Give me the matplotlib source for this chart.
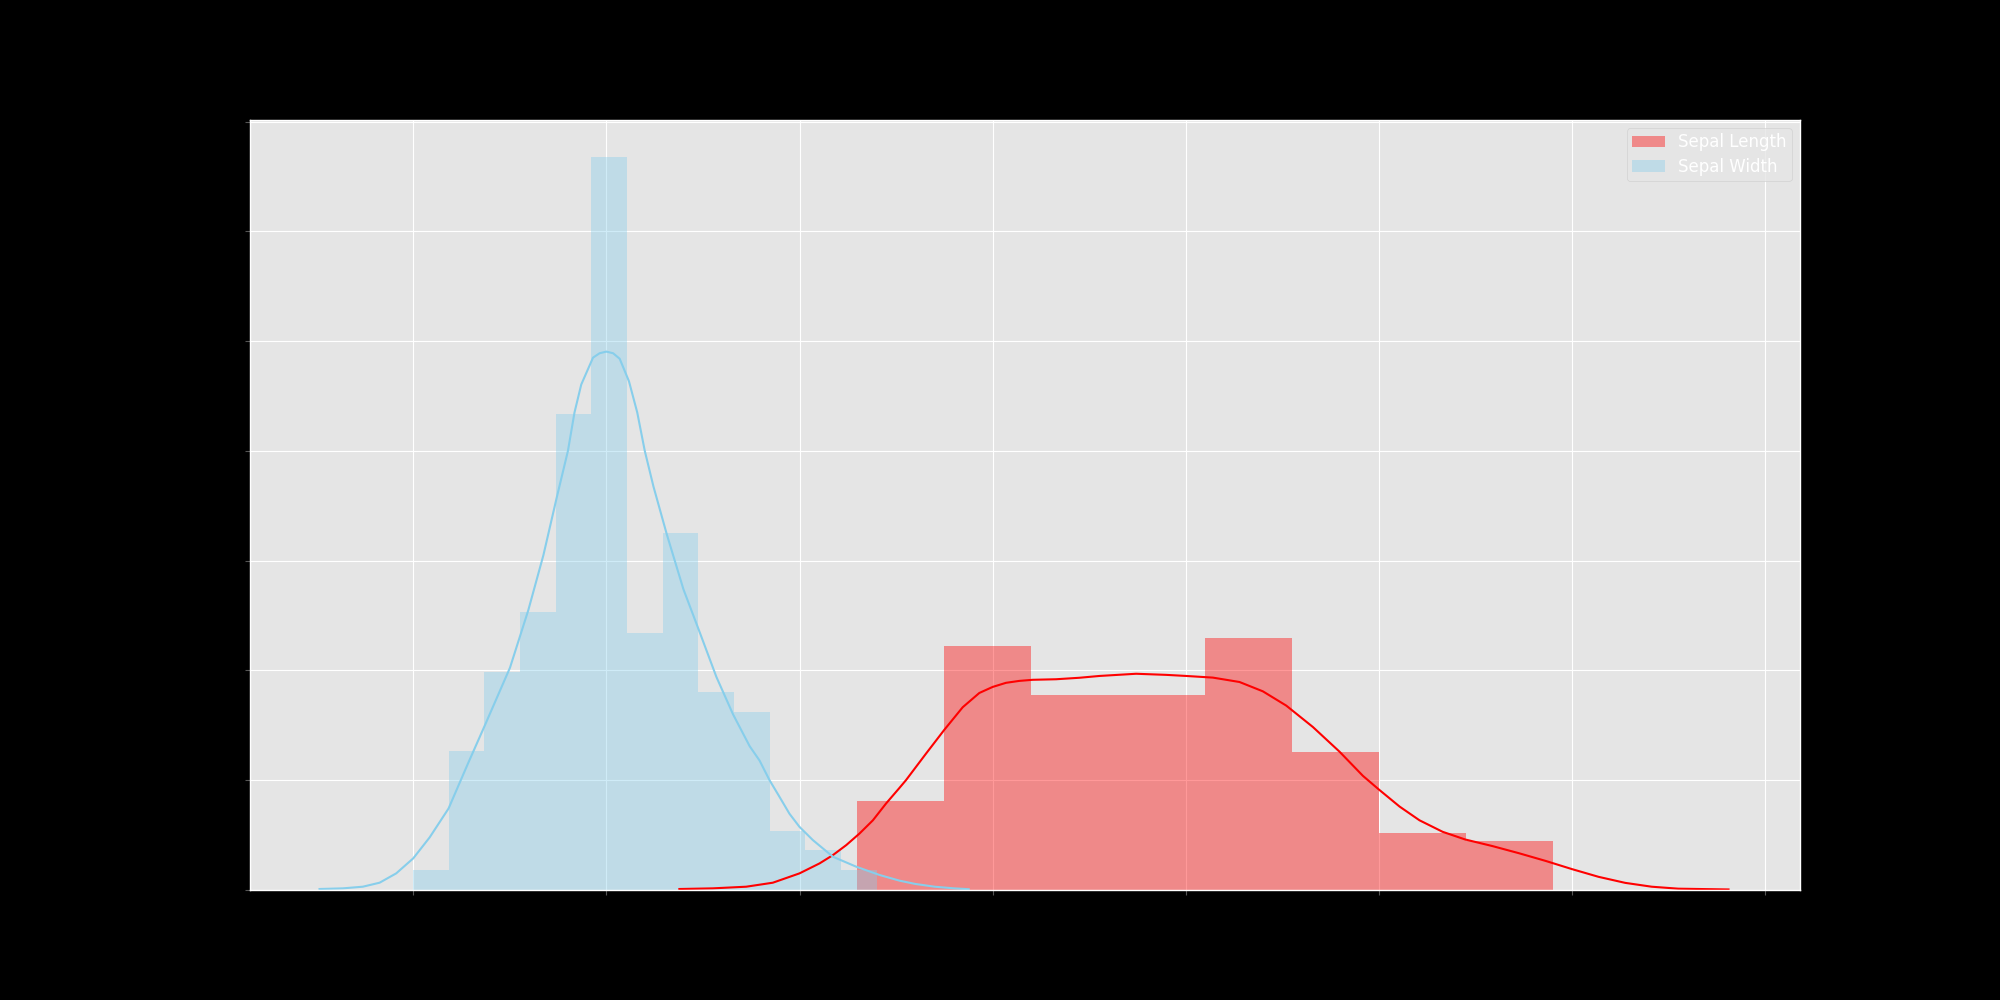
import numpy as np
import matplotlib
matplotlib.use("Agg")
import matplotlib.pyplot as plt
from matplotlib.ticker import MultipleLocator

# ---- data ----
sl_edges = [4.3, 4.75, 5.2, 5.65, 6.1, 6.55, 7.0, 7.45, 7.9]
sl_density = [0.163, 0.444, 0.356, 0.356, 0.459, 0.252, 0.104, 0.089]

sw_edges = [2.0, 2.185, 2.369, 2.554, 2.738, 2.923, 3.108, 3.292,
            3.477, 3.662, 3.846, 4.031, 4.215, 4.4]
sw_density = [0.036, 0.253, 0.397, 0.506, 0.867, 1.336, 0.469, 0.650,
              0.361, 0.325, 0.108, 0.072, 0.036]

sl_kde_x = [3.378, 3.551, 3.724, 3.862, 4.0, 4.104, 4.173, 4.242, 4.311, 4.380,
            4.449, 4.515, 4.551, 4.655, 4.750, 4.845, 4.931, 5.0, 5.069, 5.138,
            5.207, 5.328, 5.449, 5.553, 5.743, 5.898, 6.002, 6.140, 6.278, 6.399,
            6.520, 6.658, 6.796, 6.917, 7.0, 7.107, 7.210, 7.330, 7.447, 7.588,
            7.725, 7.863, 8.0, 8.137, 8.275, 8.412, 8.55, 8.81]
sl_kde_y = [0.0018, 0.003, 0.006, 0.0133, 0.0303, 0.0485, 0.0636, 0.0818, 0.103, 0.127,
            0.158, 0.185, 0.200, 0.2485, 0.292, 0.333, 0.359, 0.370, 0.3775, 0.381,
            0.383, 0.384, 0.3867, 0.390, 0.394, 0.392, 0.390, 0.387, 0.379, 0.362,
            0.336, 0.297, 0.252, 0.208, 0.183, 0.152, 0.127, 0.106, 0.092, 0.080,
            0.067, 0.053, 0.038, 0.024, 0.013, 0.006, 0.0024, 0.001]

sw_kde_x = [1.515, 1.636, 1.739, 1.826, 1.912, 2.0, 2.085, 2.183, 2.283, 2.371,
            2.501, 2.596, 2.674, 2.743, 2.801, 2.835, 2.870, 2.931, 2.965, 3.0,
            3.035, 3.069, 3.117, 3.160, 3.199, 3.244, 3.313, 3.399, 3.485, 3.570,
            3.656, 3.742, 3.793, 3.845, 3.896, 3.948, 4.0, 4.069, 4.173, 4.294,
            4.415, 4.518, 4.6, 4.7, 4.8, 4.876]
sw_kde_y = [0.0018, 0.003, 0.006, 0.0133, 0.0303, 0.0576, 0.0958, 0.1485, 0.230, 0.30,
            0.405, 0.51, 0.61, 0.715, 0.80, 0.87, 0.921, 0.970, 0.978, 0.981,
            0.978, 0.968, 0.927, 0.87, 0.80, 0.735, 0.648, 0.548, 0.468, 0.388,
            0.320, 0.262, 0.236, 0.200, 0.170, 0.139, 0.115, 0.091, 0.0606, 0.0424,
            0.0273, 0.017, 0.011, 0.006, 0.003, 0.0015]

labels = ["Sepal Length", "Sepal Width"]

# ---- plot ----
plt.style.use("ggplot")
fig = plt.figure(figsize=(20, 10), dpi=100, facecolor="black")
ax = fig.add_subplot(111)

ax.bar(sl_edges[:-1], sl_density, width=np.diff(sl_edges), align="edge",
       color="red", alpha=0.4, linewidth=0, label=labels[0])
ax.plot(sl_kde_x, sl_kde_y, color="red", linewidth=1.5)

ax.bar(sw_edges[:-1], sw_density, width=np.diff(sw_edges), align="edge",
       color="skyblue", alpha=0.4, linewidth=0, label=labels[1])
ax.plot(sw_kde_x, sw_kde_y, color="skyblue", linewidth=1.5)

ax.set_xlim(1.155, 9.18)
ax.set_ylim(0, 1.403)
ax.xaxis.set_major_locator(MultipleLocator(1))
ax.yaxis.set_major_locator(MultipleLocator(0.2))
ax.tick_params(colors="#555555", labelcolor="black")

leg = ax.legend(loc="upper right", fontsize=12, labelcolor="white",
                borderpad=0.3, labelspacing=0.4)

fig.savefig("out.png", dpi=100, facecolor="black")
